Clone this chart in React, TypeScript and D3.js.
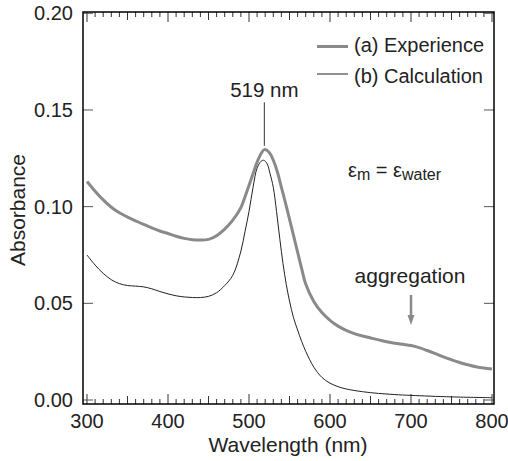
import React from "react";
import * as d3 from "d3";

const expWavelength = [300,310,320,330,340,350,360,370,380,390,400,410,420,430,440,450,460,470,480,490,495,500,505,510,515,519,525,530,535,540,545,550,555,560,565,570,580,590,600,610,620,630,640,650,660,670,680,690,700,710,720,730,740,750,760,770,780,790,800];
const expAbs = [0.1130,0.1080,0.1035,0.0997,0.0968,0.0946,0.0927,0.0908,0.0890,0.0874,0.0861,0.0847,0.0836,0.0829,0.0827,0.0831,0.0850,0.0884,0.0930,0.0995,0.1050,0.1110,0.1170,0.1230,0.1275,0.1295,0.1280,0.1240,0.1180,0.1100,0.1020,0.0935,0.0850,0.0765,0.0680,0.0600,0.0510,0.0452,0.0412,0.0382,0.0360,0.0343,0.0331,0.0321,0.0311,0.0301,0.0294,0.0288,0.0282,0.0271,0.0256,0.0240,0.0223,0.0208,0.0194,0.0182,0.0172,0.0165,0.0160];

const calcWavelength = [300,310,320,330,340,350,360,370,380,390,400,410,420,430,440,450,460,470,480,490,495,500,505,510,515,518,522,526,530,534,538,542,546,550,555,560,565,570,580,590,600,610,620,640,660,680,700,750,800];
const calcAbs = [0.0750,0.0698,0.0655,0.0622,0.0602,0.0592,0.0589,0.0585,0.0575,0.0561,0.0549,0.0539,0.0533,0.0530,0.0530,0.0536,0.0555,0.0592,0.0645,0.0770,0.0870,0.0975,0.1100,0.1200,0.1235,0.1240,0.1225,0.1170,0.1100,0.0975,0.0835,0.0705,0.0598,0.0512,0.0425,0.0362,0.0303,0.0252,0.0170,0.0117,0.0087,0.0069,0.0057,0.0043,0.0034,0.0028,0.0024,0.0016,0.0012];

const xTicks = [300, 400, 500, 600, 700, 800];
const yTicks = [0.0, 0.05, 0.1, 0.15, 0.2];
const legendLabels = ["(a) Experience", "(b) Calculation"];
const peakLabel = "519 nm";
const peakX = 519;
const peakLine = [0.154, 0.1315];
const aggLabel = "aggregation";
const aggX = 700;
const aggArrow = [0.0543, 0.0388];

const W = 508, H = 461;
const FONT = "'Liberation Sans', Arial, Helvetica, sans-serif";
const TXT = "#222";
const GRAY = "#8a8a8a";

export default function App() {
  const x = d3.scaleLinear().domain([300, 800]).range([87, 492]);
  const y = d3.scaleLinear().domain([0, 0.2]).range([400, 13.3]);
  const left = 83, right = 494, top = 12, bottom = 404;

  const line = d3.line<number>().curve(d3.curveCatmullRom.alpha(0.5));
  const expPath = line(expWavelength.map((w, i) => [x(w), y(expAbs[i])] as any) as any);
  const calcPath = line(calcWavelength.map((w, i) => [x(w), y(calcAbs[i])] as any) as any);

  const minor = d3.range(300, 801, 10);

  return (
    <svg width={W} height={H} style={{ position: "absolute", left: 0, top: 0, background: "#fff" }} fontFamily={FONT}>
      <rect x={0} y={0} width={W} height={H} fill="#fff" />
      {minor.map((v) => {
        const len = v % 100 === 0 ? 10 : v % 50 === 0 ? 8 : 5;
        return (
          <g key={v}>
            <line x1={x(v)} x2={x(v)} y1={bottom} y2={bottom - len} stroke="#333" strokeWidth={1} />
            <line x1={x(v)} x2={x(v)} y1={top} y2={top + len} stroke="#333" strokeWidth={1} />
          </g>
        );
      })}
      {yTicks.map((v) => (
        <g key={v}>
          <line x1={left} x2={left + 10} y1={y(v)} y2={y(v)} stroke="#555" strokeWidth={1} />
          <line x1={right} x2={right - 10} y1={y(v)} y2={y(v)} stroke="#555" strokeWidth={1} />
        </g>
      ))}
      <path d={calcPath || ""} fill="none" stroke="#222" strokeWidth={1} />
      <path d={expPath || ""} fill="none" stroke={GRAY} strokeWidth={3} />
      <rect x={left} y={top} width={right - left} height={bottom - top} fill="none" stroke="#000" strokeWidth={1.5} />
      {xTicks.map((v) => (
        <text key={v} x={x(v)} y={428} textAnchor="middle" fontSize={20} fill={TXT}>{v}</text>
      ))}
      {yTicks.map((v) => (
        <text key={v} x={73} y={y(v) + 7} textAnchor="end" fontSize={20} fill={TXT}>{v.toFixed(2)}</text>
      ))}
      <text x={288} y={452} textAnchor="middle" fontSize={21} fill={TXT}>Wavelength (nm)</text>
      <text transform={`translate(25,${210}) rotate(-90)`} textAnchor="middle" fontSize={21} fill={TXT}>Absorbance</text>
      <line x1={317} x2={348} y1={46.5} y2={46.5} stroke={GRAY} strokeWidth={3} />
      <text x={354} y={52} fontSize={20} fill={TXT}>{legendLabels[0]}</text>
      <line x1={317} x2={348} y1={74} y2={74} stroke="#222" strokeWidth={1} />
      <text x={354} y={83} fontSize={20} fill={TXT}>{legendLabels[1]}</text>
      <text x={x(peakX)} y={97} textAnchor="middle" fontSize={20.5} fill={TXT}>{peakLabel}</text>
      <line x1={x(peakX)} x2={x(peakX)} y1={y(peakLine[0])} y2={y(peakLine[1])} stroke="#555" strokeWidth={1.2} />
      <text x={348} y={177} fontSize={20} fill={TXT}>
        ε<tspan fontSize={16} dy={3}>m</tspan><tspan dy={-3}> = ε</tspan><tspan fontSize={16} dy={3}>water</tspan>
      </text>
      <text x={x(aggX) - 1} y={283} textAnchor="middle" fontSize={21} fill={TXT}>{aggLabel}</text>
      <line x1={x(aggX)} x2={x(aggX)} y1={y(aggArrow[0])} y2={y(aggArrow[1]) - 8} stroke={GRAY} strokeWidth={2.5} />
      <path d={`M${x(aggX) - 3.5},${y(aggArrow[1]) - 10} L${x(aggX) + 3.5},${y(aggArrow[1]) - 10} L${x(aggX)},${y(aggArrow[1])} Z`} fill={GRAY} />
    </svg>
  );
}
